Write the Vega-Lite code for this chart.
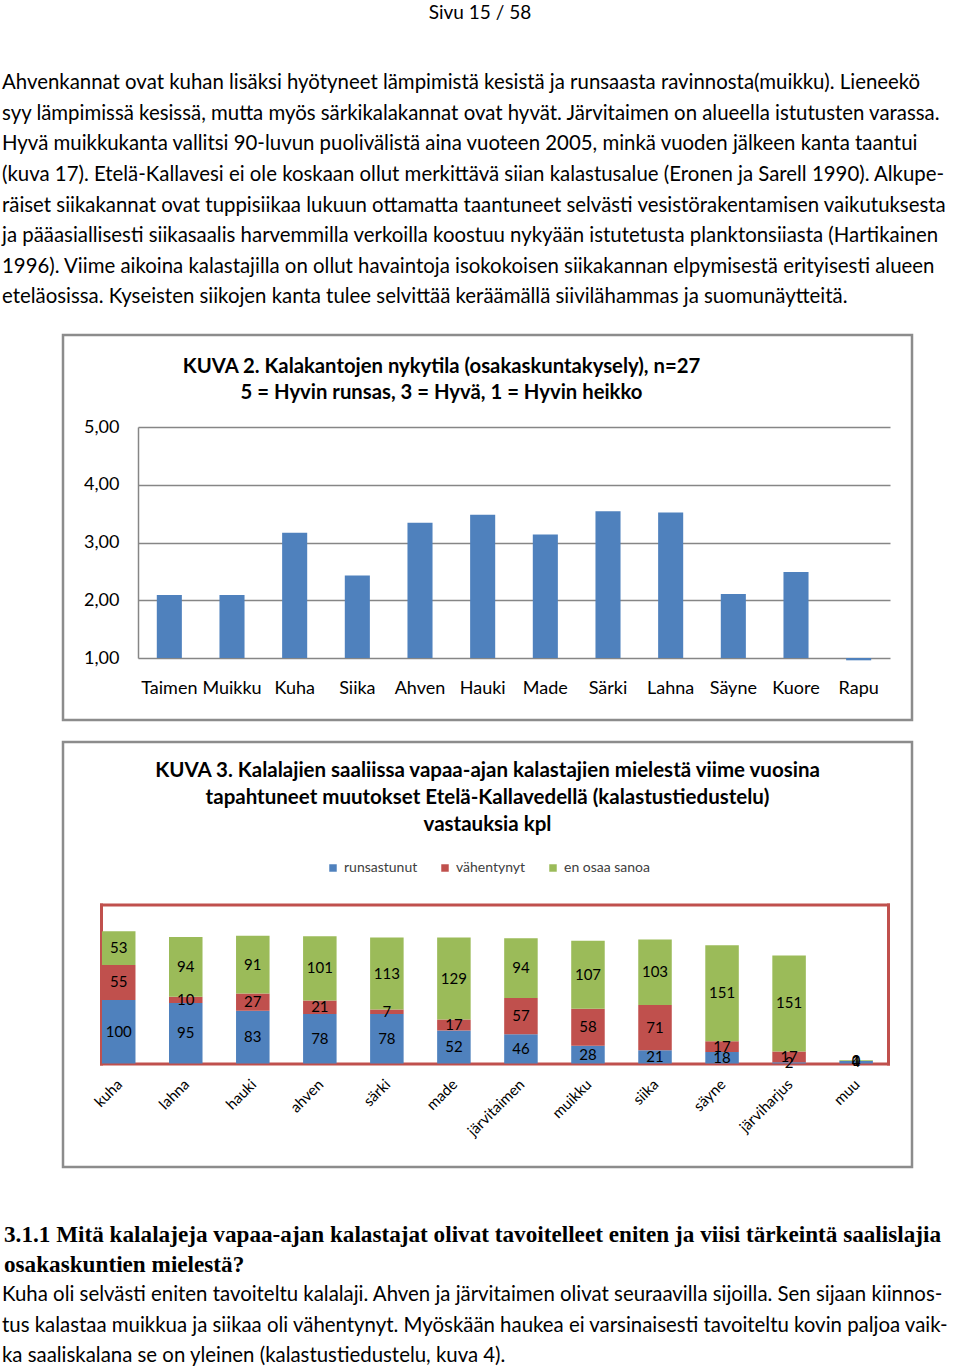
{
  "$schema": "https://vega.github.io/schema/vega-lite/v6.json",
  "padding": {"top": 4, "left": 0, "right": 0, "bottom": 0},
  "background": "white",
  "spacing": 18,
  "title": {"text": "Sivu 15 / 58", "font": "Lato", "fontSize": 19, "fontWeight": "normal", "color": "black", "anchor": "middle", "offset": 45},
  "config": {"view": {"stroke": null}, "font": "Lato"},
  "vconcat": [
    {
      "width": 960,
      "height": 247,
      "data": {"values": [
        {"rivi": 1, "teksti": "Ahvenkannat ovat kuhan lisäksi hyötyneet lämpimistä kesistä ja runsaasta ravinnosta(muikku). Lieneekö"},
        {"rivi": 2, "teksti": "syy lämpimissä kesissä, mutta myös särkikalakannat ovat hyvät.  Järvitaimen on alueella istutusten varassa."},
        {"rivi": 3, "teksti": "Hyvä muikkukanta vallitsi 90-luvun puolivälistä aina vuoteen 2005, minkä vuoden jälkeen kanta taantui"},
        {"rivi": 4, "teksti": "(kuva 17). Etelä-Kallavesi ei ole koskaan ollut merkittävä siian kalastusalue (Eronen ja Sarell 1990). Alkupe-"},
        {"rivi": 5, "teksti": "räiset siikakannat ovat tuppisiikaa lukuun ottamatta taantuneet selvästi vesistörakentamisen vaikutuksesta"},
        {"rivi": 6, "teksti": "ja pääasiallisesti siikasaalis harvemmilla verkoilla koostuu nykyään istutetusta planktonsiiasta (Hartikainen"},
        {"rivi": 7, "teksti": "1996). Viime aikoina kalastajilla on ollut havaintoja isokokoisen siikakannan elpymisestä erityisesti alueen"},
        {"rivi": 8, "teksti": "eteläosissa. Kyseisten siikojen kanta tulee selvittää keräämällä siivilähammas ja suomunäytteitä."}
      ]},
      "mark": {"type": "text", "align": "left", "baseline": "middle", "font": "Lato", "fontSize": 20.4, "color": "black", "dx": 2},
      "encoding": {
        "y": {"field": "rivi", "type": "ordinal", "axis": null, "scale": {"padding": 0.536, "align": 0.466}},
        "x": {"datum": 0, "type": "quantitative", "scale": {"domain": [0, 1]}, "axis": null},
        "text": {"field": "teksti"}
      }
    },
    {
      "spacing": 0,
      "hconcat": [
        {"width": 61, "height": 10, "data": {"values": []}, "mark": "point"},
        {
          "width": 849,
          "height": 385,
          "view": {"stroke": "#8c8c8c", "strokeWidth": 2.5},
          "title": {"text": ["KUVA 2. Kalakantojen nykytila (osakaskuntakysely), n=27", "5 = Hyvin runsas, 3 = Hyvä, 1 = Hyvin heikko"], "font": "Lato", "fontSize": 20.3, "fontWeight": "bold", "color": "black", "lineHeight": 26, "anchor": "middle", "frame": "group", "dx": -46, "offset": -68},
          "data": {"values": [
            {"laji": "Taimen", "arvo": 2.09},
            {"laji": "Muikku", "arvo": 2.09},
            {"laji": "Kuha", "arvo": 3.17},
            {"laji": "Siika", "arvo": 2.43},
            {"laji": "Ahven", "arvo": 3.34},
            {"laji": "Hauki", "arvo": 3.48},
            {"laji": "Made", "arvo": 3.14},
            {"laji": "Särki", "arvo": 3.54},
            {"laji": "Lahna", "arvo": 3.52},
            {"laji": "Säyne", "arvo": 2.11},
            {"laji": "Kuore", "arvo": 2.49},
            {"laji": "Rapu", "arvo": 0.96}
          ]},
          "mark": {"type": "bar", "color": "#4f81bd"},
          "encoding": {
            "x": {"field": "laji", "type": "nominal", "sort": null, "title": null,
              "scale": {"range": [75, 827], "paddingInner": 0.6, "paddingOuter": 0.3},
              "axis": {"orient": "bottom", "offset": -62, "labelAngle": 0, "labelFontSize": 18, "labelFont": "Lato", "labelColor": "black", "labelPadding": 21, "ticks": false, "tickSize": 0, "domain": false, "grid": false, "labelOverlap": false, "labelLimit": 200}},
            "y": {"field": "arvo", "type": "quantitative", "title": null,
              "scale": {"domain": [1, 5], "range": [323, 92], "nice": false, "zero": false},
              "axis": {"orient": "left", "offset": -75, "values": [1, 2, 3, 4, 5], "labelExpr": "replace(format(datum.value, '.2f'), '.', ',')", "labelFontSize": 18, "labelFont": "Lato", "labelColor": "black", "labelPadding": 19, "ticks": false, "tickSize": 0, "domain": true, "domainColor": "#868686", "domainWidth": 1.5, "grid": true, "gridColor": "#868686", "gridWidth": 1.5, "gridOpacity": 1}},
            "y2": {"datum": 1}
          }
        }
      ]
    },
    {
      "spacing": 0,
      "hconcat": [
        {"width": 61, "height": 10, "data": {"values": []}, "mark": "point"},
        {
          "width": 849,
          "height": 425,
          "view": {"stroke": "#8c8c8c", "strokeWidth": 2.5},
          "title": {"text": ["KUVA 3. Kalalajien saaliissa vapaa-ajan kalastajien mielestä viime vuosina", "tapahtuneet muutokset Etelä-Kallavedellä (kalastustiedustelu)", "vastauksia kpl"], "font": "Lato", "fontSize": 20.5, "fontWeight": "bold", "color": "black", "lineHeight": 27, "anchor": "middle", "frame": "group", "offset": -93},
          "data": {"values": [
            {"laji": "kuha", "vastaus": "runsastunut", "jarj": 1, "kpl": 100},
            {"laji": "kuha", "vastaus": "vähentynyt", "jarj": 2, "kpl": 55},
            {"laji": "kuha", "vastaus": "en osaa sanoa", "jarj": 3, "kpl": 53},
            {"laji": "lahna", "vastaus": "runsastunut", "jarj": 1, "kpl": 95},
            {"laji": "lahna", "vastaus": "vähentynyt", "jarj": 2, "kpl": 10},
            {"laji": "lahna", "vastaus": "en osaa sanoa", "jarj": 3, "kpl": 94},
            {"laji": "hauki", "vastaus": "runsastunut", "jarj": 1, "kpl": 83},
            {"laji": "hauki", "vastaus": "vähentynyt", "jarj": 2, "kpl": 27},
            {"laji": "hauki", "vastaus": "en osaa sanoa", "jarj": 3, "kpl": 91},
            {"laji": "ahven", "vastaus": "runsastunut", "jarj": 1, "kpl": 78},
            {"laji": "ahven", "vastaus": "vähentynyt", "jarj": 2, "kpl": 21},
            {"laji": "ahven", "vastaus": "en osaa sanoa", "jarj": 3, "kpl": 101},
            {"laji": "särki", "vastaus": "runsastunut", "jarj": 1, "kpl": 78},
            {"laji": "särki", "vastaus": "vähentynyt", "jarj": 2, "kpl": 7},
            {"laji": "särki", "vastaus": "en osaa sanoa", "jarj": 3, "kpl": 113},
            {"laji": "made", "vastaus": "runsastunut", "jarj": 1, "kpl": 52},
            {"laji": "made", "vastaus": "vähentynyt", "jarj": 2, "kpl": 17},
            {"laji": "made", "vastaus": "en osaa sanoa", "jarj": 3, "kpl": 129},
            {"laji": "järvitaimen", "vastaus": "runsastunut", "jarj": 1, "kpl": 46},
            {"laji": "järvitaimen", "vastaus": "vähentynyt", "jarj": 2, "kpl": 57},
            {"laji": "järvitaimen", "vastaus": "en osaa sanoa", "jarj": 3, "kpl": 94},
            {"laji": "muikku", "vastaus": "runsastunut", "jarj": 1, "kpl": 28},
            {"laji": "muikku", "vastaus": "vähentynyt", "jarj": 2, "kpl": 58},
            {"laji": "muikku", "vastaus": "en osaa sanoa", "jarj": 3, "kpl": 107},
            {"laji": "siika", "vastaus": "runsastunut", "jarj": 1, "kpl": 21},
            {"laji": "siika", "vastaus": "vähentynyt", "jarj": 2, "kpl": 71},
            {"laji": "siika", "vastaus": "en osaa sanoa", "jarj": 3, "kpl": 103},
            {"laji": "säyne", "vastaus": "runsastunut", "jarj": 1, "kpl": 18},
            {"laji": "säyne", "vastaus": "vähentynyt", "jarj": 2, "kpl": 17},
            {"laji": "säyne", "vastaus": "en osaa sanoa", "jarj": 3, "kpl": 151},
            {"laji": "järviharjus", "vastaus": "runsastunut", "jarj": 1, "kpl": 2},
            {"laji": "järviharjus", "vastaus": "vähentynyt", "jarj": 2, "kpl": 17},
            {"laji": "järviharjus", "vastaus": "en osaa sanoa", "jarj": 3, "kpl": 151},
            {"laji": "muu", "vastaus": "runsastunut", "jarj": 1, "kpl": 4},
            {"laji": "muu", "vastaus": "vähentynyt", "jarj": 2, "kpl": 0},
            {"laji": "muu", "vastaus": "en osaa sanoa", "jarj": 3, "kpl": 1}
          ]},
          "resolve": {"axis": {"x": "independent", "y": "independent"}},
          "layer": [
            {
              "mark": {"type": "bar"},
              "encoding": {
                "x": {"field": "laji", "type": "nominal", "sort": null, "title": null,
                  "scale": {"range": [38, 825], "paddingInner": 0.5, "paddingOuter": 0.12, "align": 0.06},
                  "axis": {"orient": "bottom", "offset": -103.5, "labelAngle": -45, "labelFontSize": 15, "labelFont": "Lato", "labelColor": "black", "labelPadding": 13, "labelOffset": -4, "ticks": false, "tickSize": 0, "domain": true, "domainColor": "#c0504d", "domainWidth": 3, "domainCap": "square", "grid": false, "labelOverlap": false}},
                "y": {"field": "kpl", "type": "quantitative", "stack": "zero", "title": null,
                  "scale": {"domain": [0, 250], "range": [321.5, 162.5], "nice": false},
                  "axis": {"orient": "left", "offset": -38, "labels": false, "ticks": false, "grid": false, "domain": true, "domainColor": "#c0504d", "domainWidth": 3, "domainCap": "square"}},
                "order": {"field": "jarj", "type": "quantitative", "sort": "ascending"},
                "color": {"field": "vastaus", "type": "nominal",
                  "scale": {"domain": ["runsastunut", "vähentynyt", "en osaa sanoa"], "range": ["#4f81bd", "#c0504d", "#9bbb59"]},
                  "legend": {"orient": "none", "legendX": 326, "legendY": 793, "direction": "horizontal", "title": null, "symbolType": "square", "symbolSize": 56, "symbolStrokeWidth": 0, "symbolOpacity": 1, "labelFontSize": 14, "labelFont": "Lato", "labelColor": "#404040", "labelOffset": 4, "columnPadding": 20}}
              }
            },
            {
              "mark": {"type": "text", "fontSize": 15, "font": "Lato", "color": "black", "baseline": "middle"},
              "encoding": {
                "x": {"field": "laji", "type": "nominal", "sort": null, "title": null,
                  "axis": {"orient": "top", "offset": -162.5, "labels": false, "ticks": false, "grid": false, "domain": true, "domainColor": "#c0504d", "domainWidth": 3, "domainCap": "square"}},
                "y": {"field": "kpl", "type": "quantitative", "stack": "zero", "bandPosition": 0.5, "title": null,
                  "axis": {"orient": "right", "offset": -24, "labels": false, "ticks": false, "grid": false, "domain": true, "domainColor": "#c0504d", "domainWidth": 3, "domainCap": "square"}},
                "order": {"field": "jarj", "type": "quantitative", "sort": "ascending"},
                "detail": {"field": "vastaus", "type": "nominal"},
                "text": {"field": "kpl", "type": "quantitative"}
              }
            }
          ]
        }
      ]
    },
    {
      "width": 960,
      "height": 169,
      "data": {"values": [
        {"rivi": 1, "tyyppi": "otsikko", "teksti": "3.1.1 Mitä kalalajeja vapaa-ajan kalastajat olivat tavoitelleet eniten ja viisi tärkeintä saalislajia"},
        {"rivi": 2, "tyyppi": "otsikko", "teksti": "osakaskuntien mielestä?"},
        {"rivi": 3, "tyyppi": "leipä", "teksti": "Kuha oli selvästi eniten tavoiteltu kalalaji. Ahven ja järvitaimen olivat seuraavilla sijoilla. Sen sijaan kiinnos-"},
        {"rivi": 4, "tyyppi": "leipä", "teksti": "tus kalastaa muikkua ja siikaa oli vähentynyt. Myöskään haukea ei varsinaisesti tavoiteltu kovin paljoa vaik-"},
        {"rivi": 5, "tyyppi": "leipä", "teksti": "ka saaliskalana se on yleinen (kalastustiedustelu, kuva 4)."}
      ]},
      "encoding": {
        "y": {"field": "rivi", "type": "ordinal", "axis": null, "scale": {"padding": 0.793, "align": 1}},
        "x": {"datum": 0, "type": "quantitative", "scale": {"domain": [0, 1]}, "axis": null},
        "text": {"field": "teksti"}
      },
      "layer": [
        {
          "transform": [{"filter": "datum.tyyppi === 'otsikko'"}],
          "mark": {"type": "text", "align": "left", "baseline": "middle", "font": "Liberation Serif", "fontWeight": "bold", "fontSize": 23.2, "color": "black", "dx": 4}
        },
        {
          "transform": [{"filter": "datum.tyyppi === 'leipä'"}],
          "mark": {"type": "text", "align": "left", "baseline": "middle", "font": "Lato", "fontSize": 20.4, "color": "black", "dx": 2}
        }
      ]
    }
  ]
}
